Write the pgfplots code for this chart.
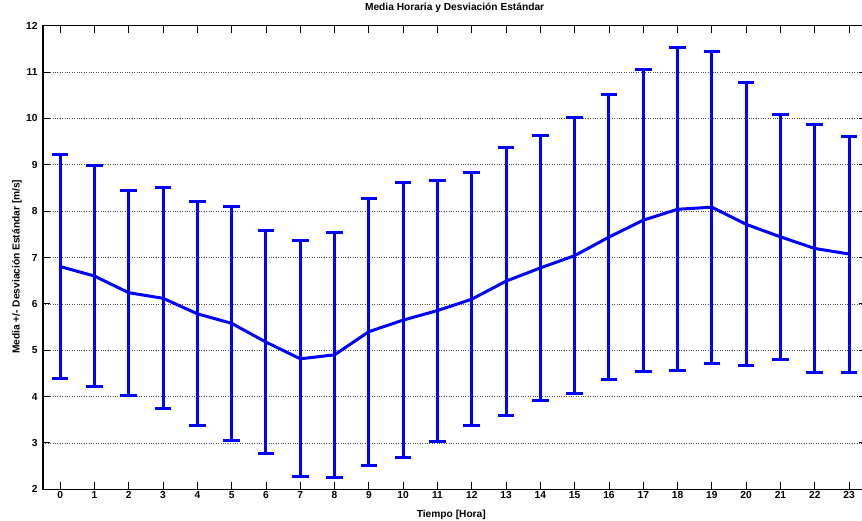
\documentclass[border=0pt]{standalone}
\usepackage{fontspec}
\setmainfont{Liberation Sans}
\usepackage{pgfplots}
\pgfplotsset{compat=1.18}
\usepackage{pgfplotstable}

\pgfplotstableread{
h mean sd
0 6.805 2.425
1 6.600 2.380
2 6.240 2.210
3 6.120 2.380
4 5.785 2.415
5 5.580 2.520
6 5.175 2.405
7 4.815 2.545
8 4.900 2.640
9 5.400 2.880
10 5.650 2.970
11 5.855 2.815
12 6.100 2.730
13 6.490 2.890
14 6.775 2.855
15 7.040 2.980
16 7.440 3.070
17 7.805 3.255
18 8.040 3.480
19 8.085 3.365
20 7.715 3.055
21 7.445 2.645
22 7.195 2.665
23 7.075 2.545
}\datatable

\begin{document}
\begin{tikzpicture}
\begin{axis}[
  scale only axis, width=823.2pt, height=463.6pt,
  xmin=-0.5, xmax=23.5, ymin=2, ymax=12,
  xtick={0,...,23}, ytick={2,...,12},
  tick align=inside, major tick length=7pt,
  ymajorgrids, grid style={dotted, black!70, line width=0.7pt},
  axis line style={line width=1.2pt},
  tick style={black, line width=0.9pt},
  font=\bfseries\fontsize{10.2}{12}\selectfont,
  ticklabel style={font=\bfseries\fontsize{10.2}{12}\selectfont},
  /pgf/number format/assume math mode=true,
  title={Media Horaria y Desviación Estándar},
  title style={at={(rel axis cs:0.5,1)}, anchor=center, yshift=11.7pt},
  xlabel={Tiempo [Hora]},
  xlabel style={at={(rel axis cs:0.496,0)}, anchor=center, yshift=-25.5pt},
  ylabel={Media +/- Desviación Estándar [m/s]},
  ylabel style={at={(rel axis cs:-0.0316,0.48)}, anchor=center},
  yticklabel style={xshift=-2pt},
  xticklabel style={yshift=1pt},
]
\addplot[blue, line width=3pt,
  error bars/.cd, y dir=both, y explicit,
  error bar style={line width=3pt},
  error mark options={rotate=90, mark size=8.3pt, line width=3pt}]
  table[x=h, y=mean, y error=sd] {\datatable};
\end{axis}
\pgfresetboundingbox
\path ([xshift=-43pt,yshift=-31.7pt]current axis.south west) rectangle ([xshift=819pt,yshift=25.7pt]current axis.north west);
\end{tikzpicture}
\end{document}
